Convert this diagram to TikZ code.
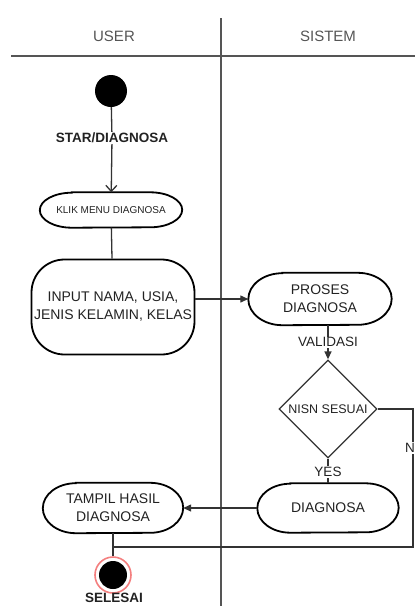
\documentclass[tikz,border=0pt]{standalone}
\usepackage{fontspec}
\setmainfont{Liberation Sans}
\usetikzlibrary{arrows.meta,shapes.geometric}
\definecolor{lane}{HTML}{555555}
\definecolor{conn}{HTML}{333333}
\definecolor{txt}{HTML}{222222}
\definecolor{ring}{HTML}{F04848}
\tikzset{
  lanetxt/.style={text=lane,font=\fontsize{15}{18}\selectfont},
  lanelin/.style={draw=lane,line width=1.4pt},
  actbox/.style={rectangle,inner sep=0pt,text=txt,align=center,font=\fontsize{14}{18}\selectfont},
  capline/.style={draw=black,line width=1.8pt},
  conn/.style={draw=conn,line width=1.3pt},
  lbl/.style={text=txt,font=\fontsize{13.5}{16}\selectfont,inner sep=1pt},
  tri/.style={-{Triangle[length=8pt,width=7pt]}}
}
% outline of an action node with elliptical ends: name, x radius, half height
\newcommand\capoutline[3]{%
  \draw[capline] ([xshift=#2]#1.north west) -- ([xshift=-#2]#1.north east)
    arc[start angle=90,end angle=-90,x radius=#2,y radius=#3]
    -- ([xshift=#2]#1.south west)
    arc[start angle=270,end angle=90,x radius=#2,y radius=#3] -- cycle;}
\begin{document}
\begin{tikzpicture}[x=1pt,y=-1pt]
\useasboundingbox (0,0) rectangle (415,606);
% swimlanes
\draw[lanelin] (11,56) -- (415,56);
\draw[lanelin] (221,18) -- (221,606);
\node[lanetxt] (huser) at (114,36) {USER};
\node[lanetxt] (hsis) at (328,36) {SISTEM};
% nodes
\node[circle,fill=black,minimum size=32pt,inner sep=0pt] (start) at (111,91) {};
\node[lbl,font=\bfseries\fontsize{13.5}{16}\selectfont] (lstar) at (112,138) {STAR/DIAGNOSA};
\node[actbox,minimum width=142pt,minimum height=35pt,font=\fontsize{10}{12}\selectfont] (klik) at (111,210) {KLIK MENU DIAGNOSA};
\capoutline{klik}{32pt}{17.5pt}
\node[actbox,draw=black,line width=1.8pt,rounded corners=33pt,minimum width=163pt,minimum height=95pt] (input) at (113,307) {INPUT NAMA, USIA,\\JENIS KELAMIN, KELAS};
\node[actbox,minimum width=143pt,minimum height=52pt] (proses) at (320,299) {PROSES\\DIAGNOSA};
\capoutline{proses}{34pt}{26pt}
\node[diamond,draw=conn,line width=1.3pt,minimum width=98pt,minimum height=98pt,inner sep=0pt,text=txt,font=\fontsize{12.5}{15}\selectfont] (dia) at (328,409) {NISN SESUAI};
\node[actbox,minimum width=141pt,minimum height=49pt] (diag) at (328,508) {DIAGNOSA};
\capoutline{diag}{33pt}{24.5pt}
\node[actbox,minimum width=140pt,minimum height=50pt] (tampil) at (113,508) {TAMPIL HASIL\\DIAGNOSA};
\capoutline{tampil}{33pt}{25pt}
\node[circle,draw=ring!70,line width=1.6pt,fill=white,minimum size=36pt,inner sep=0pt] (endo) at (113,575) {};
\node[circle,fill=black,minimum size=28pt,inner sep=0pt] (endi) at (113,575) {};
\node[lbl,font=\bfseries\fontsize{13.5}{16}\selectfont] (lsel) at (114,598) {SELESAI};
\coordinate (loopR) at (413,547);
\coordinate (join) at (113,547);
% connectors
\draw[conn] (start) -- (lstar);
\draw[conn,-{Straight Barb[length=6pt,width=11pt]}] (lstar) -- (klik);
\draw[conn] (klik) -- (input);
\draw[conn,tri] (input.east |- proses.west) -- (proses.west);
\draw[conn,tri] (proses.south -| dia.north) -- node[lbl,fill=white] (lval) {VALIDASI} (dia.north);
\draw[conn] (dia.south) -- node[lbl,fill=white,pos=0.55] (lyes) {YES} (diag.north);
\draw[conn] (dia.east) -| (loopR) -- (join);
\node[lbl,fill=white] (lno) at (410,448) {N};
\draw[conn,tri] (diag.west) -- (tampil.east);
\draw[conn] (tampil.south) -- (endo.north);
\end{tikzpicture}
\end{document}
